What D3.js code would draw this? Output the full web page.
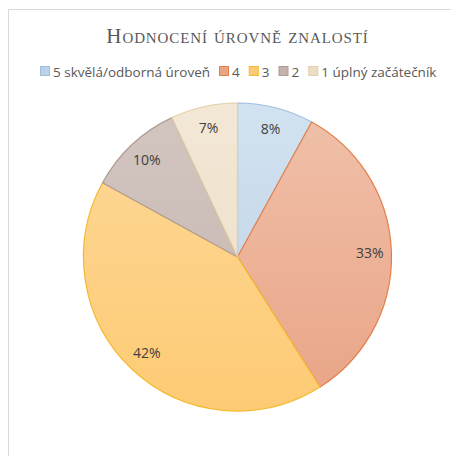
<!DOCTYPE html>
<html>
<head>
<meta charset="utf-8">
<script src="https://cdn.jsdelivr.net/npm/d3@7"></script>
<style>
  html, body { margin: 0; padding: 0; background: #fff; }
  svg { display: block; }
</style>
</head>
<body>
<svg id="chart" width="451" height="456"></svg>
<script>
// data, clockwise from 12 o'clock
const categories = ['5 skvělá/odborná úroveň', '4', '3', '2', '1 úplný začátečník'];
const values = [8, 33, 42, 10, 7];
const title = 'Hodnocení úrovně znalostí';

// colours: gradient top, gradient bottom, outline
const fillTop = ['#d2e2f0', '#f0c1aa', '#fdd99a', '#d3c6c1', '#f3e7d6'];
const fillBot = ['#bcd2e6', '#e9a486', '#fdcb74', '#c4b3ac', '#ecdec5'];
const strokes = ['#9dbfe0', '#e57f4a', '#f5b92e', '#b09c94', '#e2cfa8'];

const svg = d3.select('#chart');
const W = 451, H = 456;
const cx = 237.5, cy = 257, R = 154;

// frame (only top and left edges show)
svg.append('line').attr('x1', 8.5).attr('x2', W).attr('y1', 9.5).attr('y2', 9.5)
  .attr('stroke', '#d9d9d9').attr('stroke-width', 1);
svg.append('line').attr('x1', 8.5).attr('x2', 8.5).attr('y1', 9.5).attr('y2', H)
  .attr('stroke', '#d9d9d9').attr('stroke-width', 1);

// title in small caps
svg.append('text')
  .attr('x', cx).attr('y', 43)
  .attr('text-anchor', 'middle')
  .attr('font-family', '"Liberation Serif", "DejaVu Serif", serif')
  .attr('font-size', 21)
  .attr('font-variant', 'small-caps')
  .attr('letter-spacing', 0.9)
  .attr('fill', '#595959')
  .text(title);

const defs = svg.append('defs');
categories.forEach((c, i) => {
  const g = defs.append('linearGradient')
    .attr('id', 'grad' + i)
    .attr('gradientUnits', 'userSpaceOnUse')
    .attr('x1', 0).attr('x2', 0).attr('y1', -R).attr('y2', R);
  g.append('stop').attr('offset', '0%').attr('stop-color', fillTop[i]);
  g.append('stop').attr('offset', '100%').attr('stop-color', fillBot[i]);
});

// legend
const legend = svg.append('g').attr('font-family', '"Open Sans", "DejaVu Sans", sans-serif')
  .attr('font-size', 13.5).attr('fill', '#595959');
let lx = 40;
const ly = 72;
categories.forEach((c, i) => {
  legend.append('rect')
    .attr('x', lx + 0.5).attr('y', ly - 5.5)
    .attr('width', 9).attr('height', 9)
    .attr('fill', fillBot[i])
    .attr('stroke', strokes[i]).attr('stroke-width', 1);
  const t = legend.append('text')
    .attr('x', lx + 13).attr('y', ly + 5)
    .text(c);
  lx += 13 + t.node().getComputedTextLength() + 9;
});

// pie
const pie = d3.pie().sort(null).value(d => d)(values);
const arc = d3.arc().innerRadius(0).outerRadius(R);
const labelArc = d3.arc().innerRadius(R * 0.86).outerRadius(R * 0.86);

const gPie = svg.append('g').attr('transform', `translate(${cx},${cy})`);

gPie.selectAll('path').data(pie).join('path')
  .attr('d', arc)
  .attr('fill', (d, i) => `url(#grad${i})`)
  .attr('stroke', (d, i) => strokes[i])
  .attr('stroke-width', 1.2)
  .attr('stroke-linejoin', 'round');

gPie.selectAll('text').data(pie).join('text')
  .attr('transform', d => `translate(${labelArc.centroid(d)})`)
  .attr('text-anchor', 'middle')
  .attr('dy', '0.35em')
  .attr('font-family', '"Open Sans", "DejaVu Sans", sans-serif')
  .attr('font-size', 14)
  .attr('fill', '#404040')
  .text(d => d.data + '%');
</script>
</body>
</html>
